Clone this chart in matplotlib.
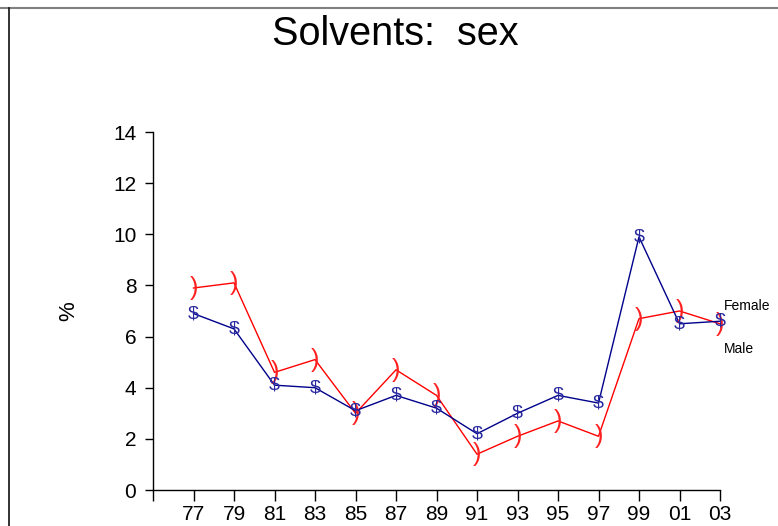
import matplotlib

matplotlib.use("Agg")
import matplotlib.pyplot as plt
from matplotlib.lines import Line2D

plt.rcParams["font.family"] = ["Liberation Sans", "DejaVu Sans"]

years = [1977, 1979, 1981, 1983, 1985, 1987, 1989, 1991, 1993, 1995, 1997, 1999, 2001, 2003]
year_labels = ["77", "79", "81", "83", "85", "87", "89", "91", "93", "95", "97", "99", "01", "03"]
male = [6.9, 6.3, 4.1, 4.0, 3.1, 3.7, 3.2, 2.2, 3.0, 3.7, 3.4, 9.9, 6.5, 6.6]
female = [7.9, 8.1, 4.6, 5.1, 3.0, 4.7, 3.7, 1.4, 2.1, 2.7, 2.1, 6.7, 7.0, 6.5]
y_ticks = [0, 2, 4, 6, 8, 10, 12, 14]

W, H = 778, 526
fig = plt.figure(figsize=(W / 100, H / 100), dpi=100)
ax = fig.add_axes([153 / W, 1 - 490 / H, (720 - 153) / W, (490 - 132) / H])

ax.plot(years, female, color="#ff0000", linewidth=1.0, zorder=2)
ax.plot(years, male, color="#00008b", linewidth=1.0, zorder=3)
# point symbols drawn as glyphs, as in the original chart
for x, y in zip(years, female):
    ax.text(x, y, ")", color="#ff2020", fontsize=18, ha="center", va="center", zorder=4)
for x, y in zip(years, male):
    ax.text(x, y, "$", color="#2a2aa0", fontsize=14, ha="center", va="center", zorder=5)

ax.set_xlim(1975, 2003)
ax.set_ylim(0, 14)
ax.set_xticks([1975] + years)
ax.set_xticklabels([""] + year_labels)
ax.set_yticks(y_ticks)
ax.set_yticklabels([str(v) for v in y_ticks])
ax.tick_params(axis="x", length=8, width=1, labelsize=15, pad=3)
ax.tick_params(axis="y", length=6, width=1, labelsize=15, pad=6)
for side in ("top", "right"):
    ax.spines[side].set_visible(False)
for side in ("left", "bottom"):
    ax.spines[side].set_linewidth(1)

ax.set_ylabel("%", fontsize=16, labelpad=24)

ax.text(2003.2, 7.2, "Female", fontsize=10, ha="left", va="center", clip_on=False)
ax.text(2003.2, 5.5, "Male", fontsize=10, ha="left", va="center", clip_on=False)

fig.text(395 / W, 1 - 34 / H, "Solvents:  sex", fontsize=28.5, ha="center", va="center")

# screenshot frame lines
fig.add_artist(Line2D([0, 1], [1 - 7.5 / H, 1 - 7.5 / H], color="#808080", linewidth=1.5))
fig.add_artist(Line2D([9 / W, 9 / W], [0, 1 - 7.5 / H], color="#111111", linewidth=1.2))

fig.savefig("out.png", dpi=100)
